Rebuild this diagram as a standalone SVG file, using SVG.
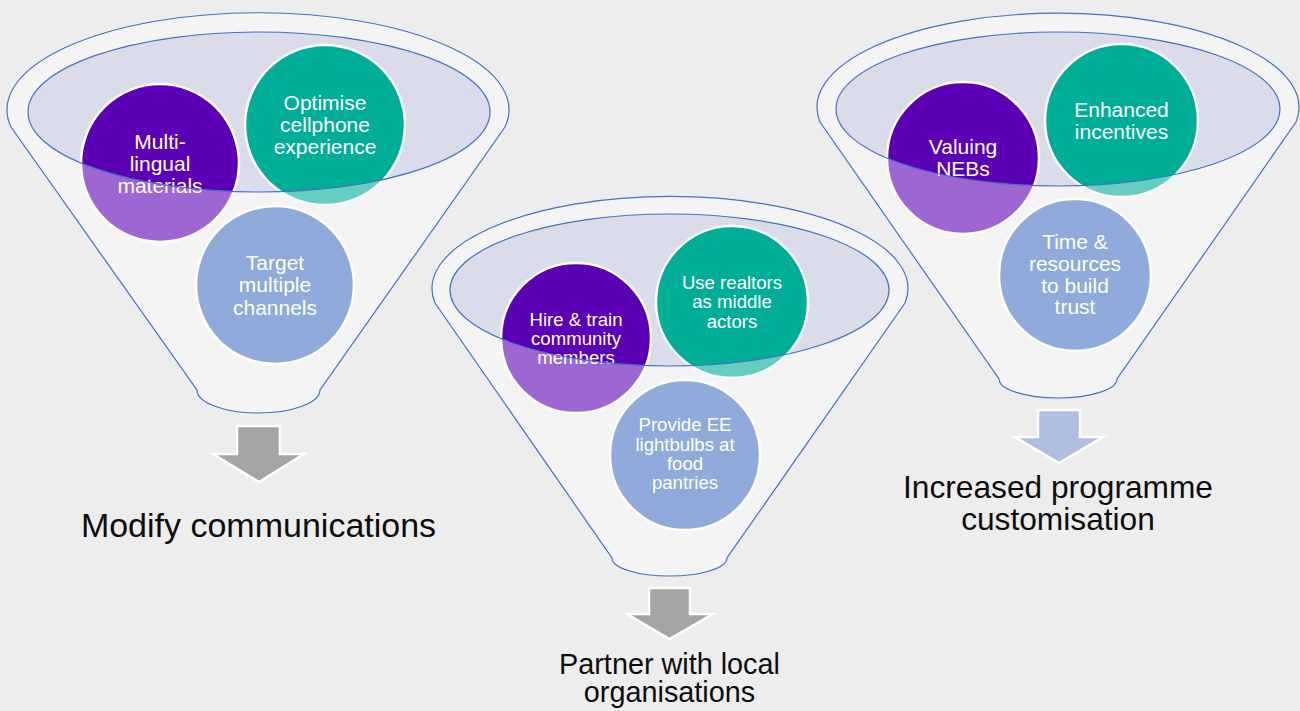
<svg xmlns="http://www.w3.org/2000/svg" width="1300" height="711" viewBox="0 0 1300 711">
<style>
.bg{fill:#EDEDED}
.funnel{fill:#F4F4F4;stroke:#4472C4;stroke-width:1.2}
.inner{fill:#DADDE9}
.rim{fill:none;stroke:#4472C4;stroke-width:1.2}
.ring{fill:none;stroke:#FFFFFF;stroke-width:2.5}
.pL{fill:#9D66D3}.pD{fill:#5B00B5}
.tL{fill:#66CEC1}.tD{fill:#00AE98}
.bL{fill:#8FAADB}
.ct{font-family:"Liberation Sans",Arial,sans-serif;fill:#FFFFFF;text-anchor:middle}
.f21{font-size:21px}.f19{font-size:18.6px}
.lbl{font-family:"Liberation Sans",Arial,sans-serif;fill:#0D0D0D;text-anchor:middle}
.arrG{fill:#A5A5A5;stroke:#FFFFFF;stroke-width:2.5}
.arrB{fill:#B0BEE0;stroke:#FFFFFF;stroke-width:2.5}
</style>
<defs>
<clipPath id="clip1"><ellipse cx="259" cy="112" rx="231" ry="80"/></clipPath>
<clipPath id="clip2"><ellipse cx="669.5" cy="290" rx="219.5" ry="76"/></clipPath>
<clipPath id="clip3"><ellipse cx="1058" cy="109" rx="222" ry="77"/></clipPath>
</defs>
<rect class="bg" x="0" y="0" width="1300" height="711"/>

<g id="funnel1">
<path class="funnel" d="M 11 127 A 251 97 0 1 1 505 127 L 320 390 A 61.5 23 0 0 1 197 390 Z"/>
<ellipse class="inner" cx="259" cy="112" rx="231" ry="80"/>
<g id="circle-multilingual">
<circle class="pL" cx="160" cy="163" r="79"/>
<circle class="pD" cx="160" cy="163" r="79" clip-path="url(#clip1)"/>
<circle class="ring" cx="160" cy="163" r="79"/>
<text class="ct f21" x="160" y="149">Multi-</text>
<text class="ct f21" x="160" y="171">lingual</text>
<text class="ct f21" x="160" y="193">materials</text>
</g>
<g id="circle-cellphone">
<circle class="tL" cx="325" cy="125" r="80"/>
<circle class="tD" cx="325" cy="125" r="80" clip-path="url(#clip1)"/>
<circle class="ring" cx="325" cy="125" r="80"/>
<text class="ct f21" x="325" y="110">Optimise</text>
<text class="ct f21" x="325" y="132">cellphone</text>
<text class="ct f21" x="325" y="154">experience</text>
</g>
<g id="circle-channels">
<circle class="bL" cx="275" cy="285" r="79"/>
<circle class="ring" cx="275" cy="285" r="79"/>
<text class="ct f21" x="275" y="270">Target</text>
<text class="ct f21" x="275" y="292">multiple</text>
<text class="ct f21" x="275" y="315">channels</text>
</g>
<ellipse class="rim" cx="259" cy="112" rx="231" ry="80"/>
</g>

<g id="funnel2">
<path class="funnel" d="M 435 303 A 238 92 0 1 1 905 303 L 727 558 A 57.5 18 0 0 1 612 558 Z"/>
<ellipse class="inner" cx="669.5" cy="290" rx="219.5" ry="76"/>
<g id="circle-hire">
<circle class="pL" cx="576" cy="338" r="75"/>
<circle class="pD" cx="576" cy="338" r="75" clip-path="url(#clip2)"/>
<circle class="ring" cx="576" cy="338" r="75"/>
<text class="ct f19" x="576" y="326">Hire &amp; train</text>
<text class="ct f19" x="576" y="345">community</text>
<text class="ct f19" x="576" y="364">members</text>
</g>
<g id="circle-realtors">
<circle class="tL" cx="732" cy="302" r="76"/>
<circle class="tD" cx="732" cy="302" r="76" clip-path="url(#clip2)"/>
<circle class="ring" cx="732" cy="302" r="76"/>
<text class="ct f19" x="732" y="289">Use realtors</text>
<text class="ct f19" x="732" y="308">as middle</text>
<text class="ct f19" x="732" y="328">actors</text>
</g>
<g id="circle-lightbulbs">
<circle class="bL" cx="685" cy="455" r="75"/>
<circle class="ring" cx="685" cy="455" r="75"/>
<text class="ct f19" x="685" y="431">Provide EE</text>
<text class="ct f19" x="685" y="451">lightbulbs at</text>
<text class="ct f19" x="685" y="470">food</text>
<text class="ct f19" x="685" y="489">pantries</text>
</g>
<ellipse class="rim" cx="669.5" cy="290" rx="219.5" ry="76"/>
</g>

<g id="funnel3">
<path class="funnel" d="M 820 122 A 241 94 0 1 1 1296 122 L 1117 379 A 59 19 0 0 1 999 379 Z"/>
<ellipse class="inner" cx="1058" cy="109" rx="222" ry="77"/>
<g id="circle-nebs">
<circle class="pL" cx="963" cy="158" r="76"/>
<circle class="pD" cx="963" cy="158" r="76" clip-path="url(#clip3)"/>
<circle class="ring" cx="963" cy="158" r="76"/>
<text class="ct f21" x="963" y="154">Valuing</text>
<text class="ct f21" x="963" y="176">NEBs</text>
</g>
<g id="circle-incentives">
<circle class="tL" cx="1121.5" cy="120.5" r="76.5"/>
<circle class="tD" cx="1121.5" cy="120.5" r="76.5" clip-path="url(#clip3)"/>
<circle class="ring" cx="1121.5" cy="120.5" r="76.5"/>
<text class="ct f21" x="1121.5" y="117">Enhanced</text>
<text class="ct f21" x="1121.5" y="139">incentives</text>
</g>
<g id="circle-trust">
<circle class="bL" cx="1075" cy="275" r="76"/>
<circle class="ring" cx="1075" cy="275" r="76"/>
<text class="ct f21" x="1075" y="249">Time &amp;</text>
<text class="ct f21" x="1075" y="271">resources</text>
<text class="ct f21" x="1075" y="293">to build</text>
<text class="ct f21" x="1075" y="314">trust</text>
</g>
<ellipse class="rim" cx="1058" cy="109" rx="222" ry="77"/>
</g>

<g id="connectors">
<path class="arrG" d="M 237 426 L 280 426 L 280 454 L 304 454 L 259 482 L 213 454 L 237 454 Z"/>
<path class="arrG" d="M 649 588 L 690 588 L 690 614 L 713 614 L 669.5 639 L 627 614 L 649 614 Z"/>
<path class="arrB" d="M 1038 410 L 1080 410 L 1080 437 L 1103 437 L 1059 463 L 1015 437 L 1038 437 Z"/>
</g>

<g id="label-modify">
<text class="lbl" x="258.5" y="537" font-size="34">Modify communications</text>
</g>
<g id="label-partner">
<text class="lbl" x="669.5" y="674" font-size="28.8">Partner with local</text>
<text class="lbl" x="669.5" y="702" font-size="28.8">organisations</text>
</g>
<g id="label-customisation">
<text class="lbl" x="1058" y="498" font-size="31.7">Increased programme</text>
<text class="lbl" x="1058" y="530" font-size="31.7">customisation</text>
</g>
</svg>
